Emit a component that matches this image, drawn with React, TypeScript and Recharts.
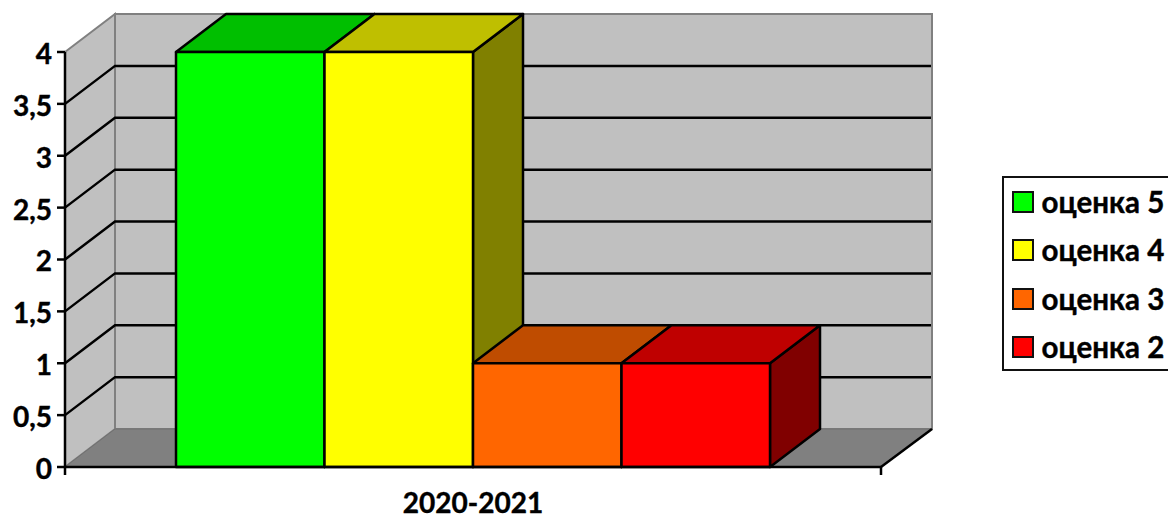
import React from "react";
import { BarChart, Bar, XAxis, YAxis, CartesianGrid, Legend } from "recharts";

const categories = ["2020-2021"];
const seriesNames = ["оценка 5", "оценка 4", "оценка 3", "оценка 2"];
const seriesValues = [[4], [4], [1], [1]];
const seriesColors = ["#00FF00", "#FFFF00", "#FF6600", "#FF0000"];
const topColors = ["#00BF00", "#BFBF00", "#BF4C00", "#BF0000"];
const sideColors = ["#008000", "#808000", "#803300", "#800000"];
const yTicks = [0, 0.5, 1, 1.5, 2, 2.5, 3, 3.5, 4];

const rows = categories.map((period, c) => {
  const row: Record<string, string | number> = { period };
  seriesNames.forEach((name, s) => {
    row[name] = seriesValues[s][c];
  });
  return row;
});

const DX = 50;
const DY = -38;
const FONT = "Lato, Carlito, sans-serif";
const FS = 28;

const Box3D = (i: number) => (p: any) => {
  const { x, y, width: w, height: h } = p;
  return (
    <g stroke="#000" strokeWidth={2.5} strokeLinejoin="round">
      <path d={`M${x + w},${y} L${x + w + DX},${y + DY} L${x + w + DX},${y + h + DY} L${x + w},${y + h} Z`} fill={sideColors[i]} />
      <path d={`M${x},${y} L${x + DX},${y + DY} L${x + w + DX},${y + DY} L${x + w},${y} Z`} fill={topColors[i]} />
      <rect x={x} y={y} width={w} height={h} fill={seriesColors[i]} />
    </g>
  );
};

// Walls and floor hang off the top gridline so they follow the plot area.
const walls = (p: any) => {
  const { x, y, width: w, height: h, y1, key } = p;
  if (Math.abs(y1 - y) > 1) return <g key={key} />;
  const b = y + h;
  return (
    <g key={key}>
      <path d={`M${x},${y} L${x + DX},${y + DY} L${x + DX},${b + DY} L${x},${b} Z`} fill="#C0C0C0" stroke="#808080" strokeWidth={2} />
      <rect x={x + DX} y={y + DY} width={w + 1} height={h} fill="#C0C0C0" stroke="#808080" strokeWidth={2} />
      <path d={`M${x},${b} L${x + DX},${b + DY} L${x + w + DX + 1},${b + DY} L${x + w},${b} Z`} fill="#808080" stroke="#707070" strokeWidth={1} />
      <path d={`M${x + w},${b} L${x + w + DX + 1},${b + DY}`} stroke="#000" strokeWidth={2.5} />
      <path d={`M${x},${b} V${b + 8} M${x + w},${b} V${b + 8}`} stroke="#000" strokeWidth={2.5} />
    </g>
  );
};

const gridLine = (p: any) => {
  const { x, y, width: w, height: h, y1, key } = p;
  if (Math.abs(y1 - y) < 1 || Math.abs(y1 - (y + h)) < 1) return <g key={key} />;
  return (
    <path
      key={key}
      d={`M${x},${y1} L${x + DX},${y1 + DY} H${x + w + DX}`}
      fill="none"
      stroke="#000"
      strokeWidth={2.5}
    />
  );
};

const legendContent = () => (
  <div style={{ boxSizing: "border-box", width: 168, height: 195, border: "2.5px solid #111", borderRight: "none", background: "#fff", position: "relative" }}>
    {seriesNames.map((name, i) => (
      <div key={name} style={{ position: "absolute", left: 8, top: 10.5 + i * 48.6, height: 26, display: "flex", alignItems: "center", whiteSpace: "nowrap" }}>
        <span style={{ display: "inline-block", boxSizing: "border-box", width: 22, height: 22, background: seriesColors[i], border: "2.5px solid #111" }} />
        <span style={{ marginLeft: 7.5, fontFamily: FONT, fontWeight: 700, fontSize: 29.5, color: "#000", lineHeight: "26px", WebkitTextStroke: "0.4px #000" }}>{name}</span>
      </div>
    ))}
  </div>
);

const tickStyle = { fontFamily: FONT, fontWeight: 700, fontSize: FS, fill: "#000", stroke: "#000", strokeWidth: 0.4 };

export default function App() {
  return (
    <div style={{ position: "absolute", left: 0, top: 0, width: 1168, height: 515, overflow: "hidden", background: "#fff" }}>
      <BarChart
        width={1168}
        height={515}
        data={rows}
        margin={{ top: 52, right: 287, bottom: 0, left: 0 }}
        barSize={148.5}
        barGap={0}
      >
        <CartesianGrid horizontal={walls} vertical={false} />
        <CartesianGrid horizontal={gridLine} vertical={false} />
        <XAxis
          dataKey="period"
          height={48}
          tickLine={false}
          axisLine={{ stroke: "#000", strokeWidth: 2.5 }}
          tick={tickStyle}
          tickMargin={20}
        />
        <YAxis
          width={65}
          domain={[0, 4]}
          ticks={yTicks}
          interval={0}
          tickSize={8}
          tickMargin={5}
          tickFormatter={(v: number) => String(v).replace(".", ",")}
          axisLine={{ stroke: "#000", strokeWidth: 2.5 }}
          tickLine={{ stroke: "#000", strokeWidth: 2.5 }}
          tick={{ ...tickStyle, dy: 2 }}
        />
        {seriesNames.map((name, i) => (
          <Bar key={name} dataKey={name} fill={seriesColors[i]} isAnimationActive={false} shape={Box3D(i)} />
        ))}
        <Legend
          layout="horizontal"
          align="center"
          verticalAlign="middle"
          content={legendContent}
          wrapperStyle={{ left: 1002, top: 176, width: 168, height: 195, margin: 0 }}
        />
      </BarChart>
    </div>
  );
}
